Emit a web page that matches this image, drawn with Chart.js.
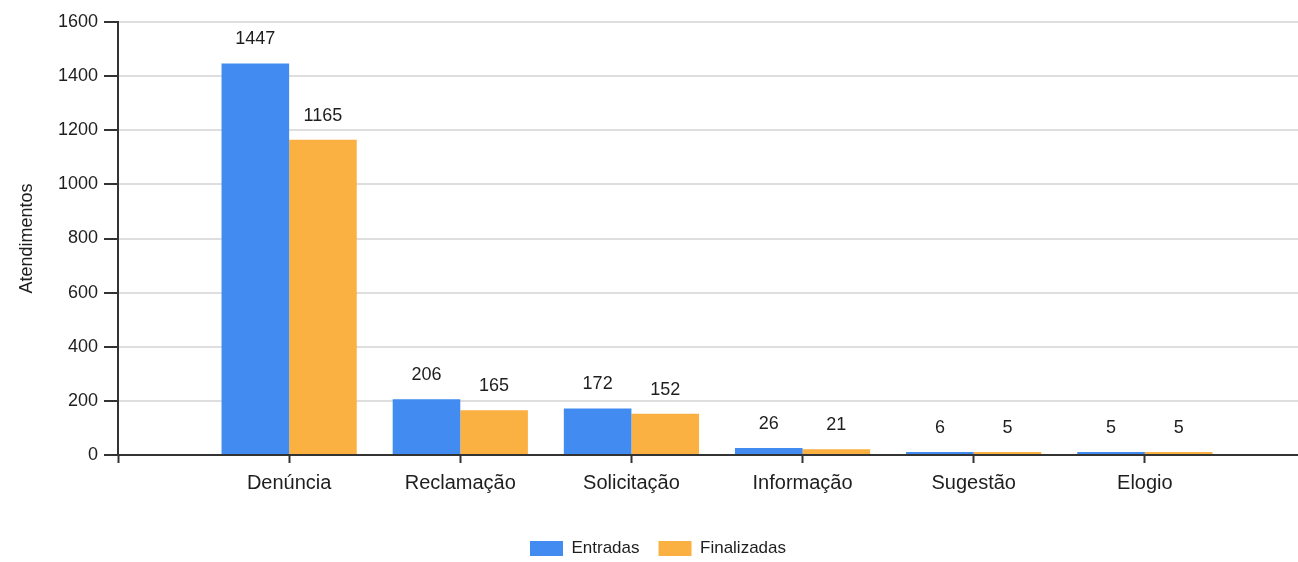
<!DOCTYPE html>
<html lang="pt">
<head>
  <meta charset="utf-8">
  <title>Atendimentos por tipo</title>
  <script src="https://cdn.jsdelivr.net/npm/chart.js@4/dist/chart.umd.min.js"></script>
  <style>
    body { margin:0; background:#fff; overflow:hidden; }
    #wrap { position:relative; width:1330px; height:567px; }
  </style>
</head>
<body>
  <div id="wrap"><canvas id="chart"></canvas></div>
  <script>
    // tipos de manifestação e totais
    const categories = ['Denúncia', 'Reclamação', 'Solicitação', 'Informação', 'Sugestão', 'Elogio'];
    const entradas = [1447, 206, 172, 26, 6, 5];
    const finalizadas = [1165, 165, 152, 21, 5, 5];
    const yMin = 0, yMax = 1600, yStep = 200;

    // empty slot at each end so the y axis sits one category away from the first bar
    const labels = ['', ...categories, ''];
    const pad = arr => [null, ...arr, null];

    Chart.defaults.font.family = '"Liberation Sans", Arial, sans-serif';
    Chart.defaults.color = '#1e1e1e';

    // value printed above each bar
    const valueLabels = {
      id: 'valueLabels',
      afterDatasetsDraw(chart) {
        const ctx = chart.ctx;
        ctx.save();
        ctx.font = '18px "Liberation Sans", Arial, sans-serif';
        ctx.fillStyle = '#1e1e1e';
        ctx.textAlign = 'center';
        ctx.textBaseline = 'middle';
        chart.data.datasets.forEach((ds, i) => {
          chart.getDatasetMeta(i).data.forEach((bar, j) => {
            const v = ds.data[j];
            if (v == null) return;
            ctx.fillText(String(v), bar.x, bar.y - 24);
          });
        });
        ctx.restore();
      }
    };

    new Chart(document.getElementById('chart'), {
      type: 'bar',
      data: {
        labels,
        datasets: [
          { label: 'Entradas', data: pad(entradas), backgroundColor: '#428bf0', borderWidth: 0, minBarLength: 3 },
          { label: 'Finalizadas', data: pad(finalizadas), backgroundColor: '#fbb141', borderWidth: 0, minBarLength: 3 }
        ]
      },
      options: {
        responsive: true,
        maintainAspectRatio: false,
        animation: false,
        categoryPercentage: 0.79,
        barPercentage: 1,
        layout: { padding: { top: 22, left: 0, right: 14, bottom: 0 } },
        plugins: {
          tooltip: { enabled: false },
          legend: {
            position: 'bottom',
            labels: { boxWidth: 33, boxHeight: 15, padding: 19, font: { size: 17 }, color: '#1e1e1e' }
          }
        },
        scales: {
          x: {
            offset: false,
            grid: { offset: false, drawOnChartArea: false, tickLength: 8, tickColor: '#333', tickWidth: 2 },
            border: { color: '#333', width: 2 },
            ticks: { font: { size: 20 }, padding: 8, maxRotation: 0, autoSkip: false, color: '#1e1e1e' },
            afterFit(s) { s.height = 66; }
          },
          y: {
            min: yMin,
            max: yMax,
            ticks: { stepSize: yStep, padding: 6, font: { size: 18 }, color: '#1e1e1e', callback: v => String(v) },
            grid: { color: '#dedede', lineWidth: 2, tickColor: '#333', tickWidth: 2, tickLength: 14 },
            border: { color: '#333', width: 2 },
            title: { display: true, text: 'Atendimentos', font: { size: 18 }, color: '#1e1e1e', padding: { top: 16 } },
            afterFit(s) { s.width = 118; }
          }
        }
      },
      plugins: [valueLabels]
    });
  </script>
</body>
</html>
